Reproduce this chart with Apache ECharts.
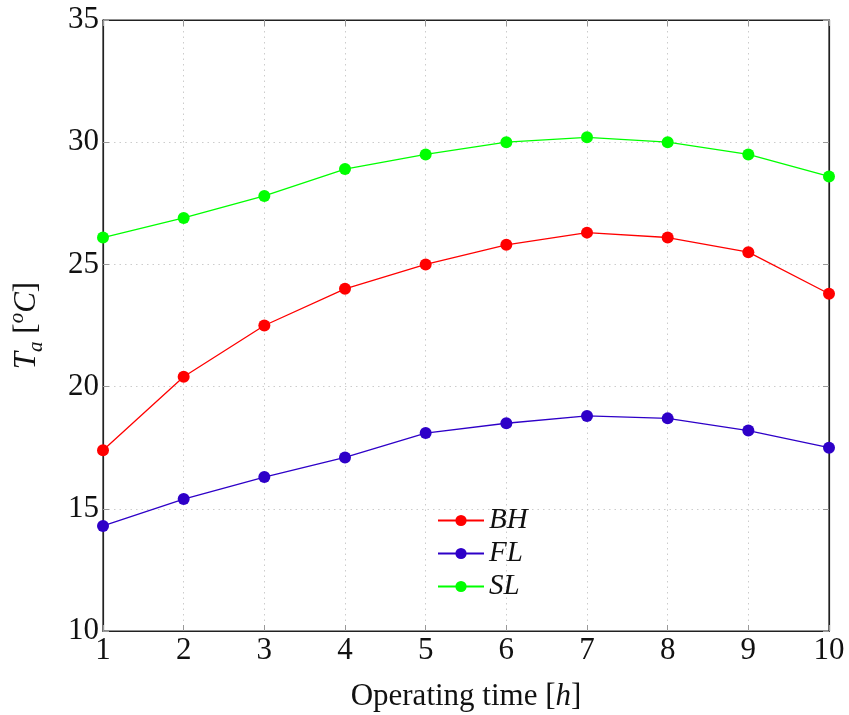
<!DOCTYPE html>
<html>
<head>
<meta charset="utf-8">
<script src="https://cdn.jsdelivr.net/npm/echarts@6/dist/echarts.min.js"></script>
<style>
  html, body { margin: 0; padding: 0; background: #fff; }
  #chart { width: 849px; height: 715px; }
</style>
</head>
<body>
<div id="chart"></div>
<script>
const hours = [1, 2, 3, 4, 5, 6, 7, 8, 9, 10];
const bhValues = [17.4, 20.4, 22.5, 24.0, 25.0, 25.8, 26.3, 26.1, 25.5, 23.8];
const flValues = [14.3, 15.4, 16.3, 17.1, 18.1, 18.5, 18.8, 18.7, 18.2, 17.5];
const slValues = [26.1, 26.9, 27.8, 28.9, 29.5, 30.0, 30.2, 30.0, 29.5, 28.6];
const seriesNames = ['BH', 'FL', 'SL'];
const colorList = ['#ff0000', '#2e00c8', '#00ff00'];

const serif = '"Liberation Serif", "DejaVu Serif", serif';

function pairs(vals) {
  return hours.map((h, i) => [h, vals[i]]);
}

const chart = echarts.init(document.getElementById('chart'));

// 刻度线（内侧、灰色）
const tick = { show: true, inside: true, length: 6, lineStyle: { color: '#999', width: 1 } };
const dotted = { show: true, lineStyle: { color: '#ccc', type: [1.5, 4], width: 1 } };

const option = {
  animation: false,
  backgroundColor: '#fff',
  color: colorList,
  textStyle: { fontFamily: serif },
  grid: {
    left: 103, right: 20, top: 20, bottom: 84,
    outerBoundsMode: 'none',
    containLabel: false,
    show: true, borderColor: '#222', borderWidth: 1.2
  },
  legend: {
    orient: 'vertical',
    left: 432, top: 501,
    itemWidth: 46, itemHeight: 14, itemGap: 4,
    textStyle: { fontFamily: serif, fontStyle: 'italic', fontSize: 29, color: '#111' },
    data: seriesNames
  },
  xAxis: [
    {
      type: 'value', min: 1, max: 10, interval: 1,
      name: '{a|Operating time [}{i|h}{a|]}',
      nameLocation: 'middle', nameGap: 50,
      nameTextStyle: {
        rich: {
          a: { fontFamily: serif, fontSize: 31, color: '#111' },
          i: { fontFamily: serif, fontSize: 31, fontStyle: 'italic', color: '#111' }
        }
      },
      axisLine: { show: true, lineStyle: { color: '#222', width: 1.2 } },
      axisTick: tick,
      splitLine: dotted,
      axisLabel: { fontFamily: serif, fontSize: 31, color: '#111', margin: 4 }
    },
    {
      type: 'value', min: 1, max: 10, interval: 1, position: 'top',
      axisLine: { show: true, lineStyle: { color: '#222', width: 1.2 } },
      axisTick: tick, axisLabel: { show: false }, splitLine: { show: false }
    }
  ],
  yAxis: [
    {
      type: 'value', min: 10, max: 35, interval: 5,
      name: '{i|T}{s|a}{a| [}{p|o}{i|C}{a|]}',
      nameLocation: 'middle', nameGap: 56, nameRotate: 90,
      nameTextStyle: {
        lineHeight: 40,
        rich: {
          a: { fontFamily: serif, fontSize: 31, color: '#111', lineHeight: 40 },
          i: { fontFamily: serif, fontSize: 31, fontStyle: 'italic', color: '#111', lineHeight: 40 },
          s: { fontFamily: serif, fontSize: 21, fontStyle: 'italic', color: '#111', verticalAlign: 'bottom', lineHeight: 40 },
          p: { fontFamily: serif, fontSize: 21, fontStyle: 'italic', color: '#111', verticalAlign: 'top', lineHeight: 40 }
        }
      },
      axisLine: { show: true, lineStyle: { color: '#222', width: 1.2 } },
      axisTick: tick,
      splitLine: dotted,
      axisLabel: { fontFamily: serif, fontSize: 31, color: '#111', margin: 4 }
    },
    {
      type: 'value', min: 10, max: 35, interval: 5, position: 'right',
      axisLine: { show: true, lineStyle: { color: '#222', width: 1.2 } },
      axisTick: tick, axisLabel: { show: false }, splitLine: { show: false }
    }
  ],
  series: [
    { name: seriesNames[0], data: pairs(bhValues) },
    { name: seriesNames[1], data: pairs(flValues) },
    { name: seriesNames[2], data: pairs(slValues) }
  ].map((s, i) => ({
    name: s.name,
    type: 'line',
    data: s.data,
    symbol: 'circle',
    symbolSize: 12,
    lineStyle: { width: 1.3, color: colorList[i] },
    itemStyle: { color: colorList[i] },
    z: 3
  }))
};

chart.setOption(option);
</script>
</body>
</html>
